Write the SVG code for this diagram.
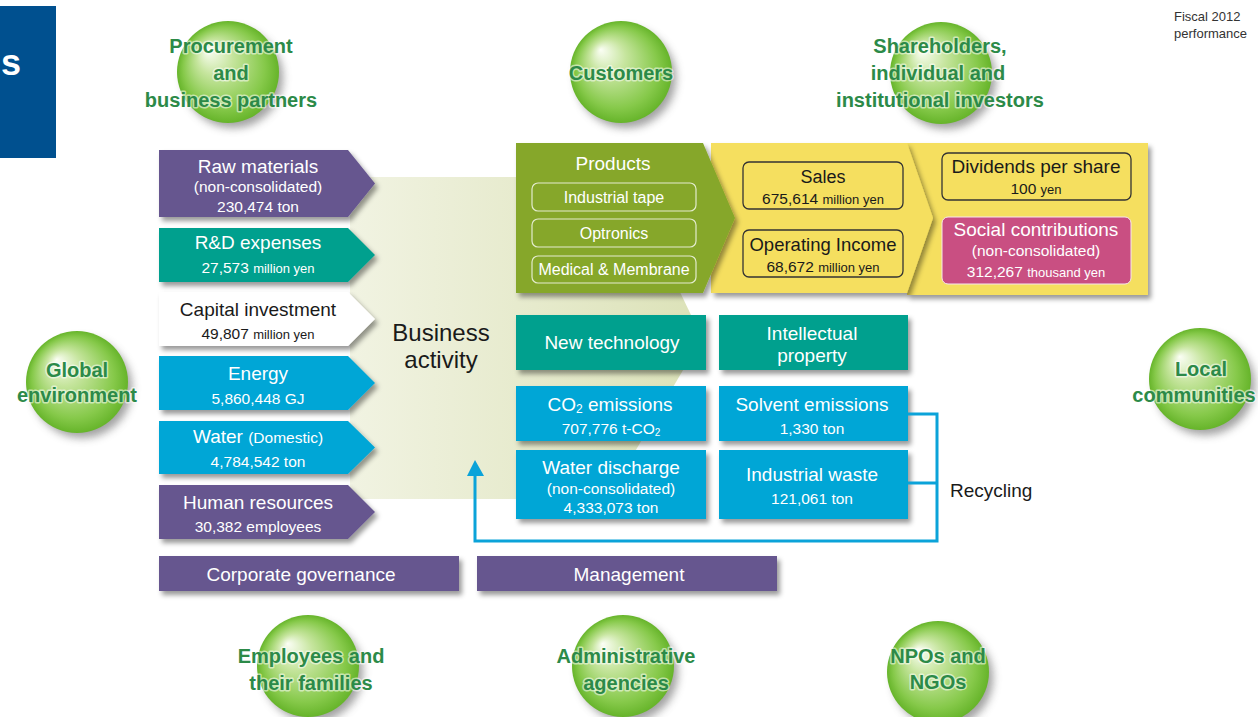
<svg xmlns="http://www.w3.org/2000/svg" width="1258" height="717" viewBox="0 0 1258 717">
<defs>
<filter id="sh" x="-10%" y="-10%" width="130%" height="140%"><feDropShadow dx="3" dy="4" stdDeviation="2.5" flood-color="#000" flood-opacity="0.4"/></filter>
<filter id="bl" x="-30%" y="-30%" width="160%" height="160%"><feGaussianBlur stdDeviation="4"/></filter>
<radialGradient id="ball" cx="0.5" cy="0.5" r="0.5" fx="0.3" fy="0.28">
<stop offset="0" stop-color="#fbfef5"/>
<stop offset="0.35" stop-color="#c6e59e"/>
<stop offset="0.8" stop-color="#86c94a"/>
<stop offset="1" stop-color="#66b42a"/>
</radialGradient>
<linearGradient id="bg" x1="0" y1="0" x2="1" y2="0">
<stop offset="0" stop-color="#f1f3e2"/>
<stop offset="1" stop-color="#dce2b8"/>
</linearGradient>
</defs>
<style>
text{font-family:"Liberation Sans",Arial,sans-serif;text-anchor:middle}
.w{fill:#fff}
.k{fill:#1a1a1a}
.t17{font-size:19px}
.t18{font-size:19px}
.t14{font-size:15.5px}
.t12{font-size:13px}
.t15{font-size:16px}
.g{font-size:20px;font-weight:bold;fill:#2c8a48;stroke:#fff;stroke-width:3;stroke-opacity:0.55;paint-order:stroke;stroke-linejoin:round}
.ball{fill:url(#ball)}
.bsh{fill:#555;opacity:0.55}
.pur{fill:#66568f}
.teal{fill:#00a08e}
.blue{fill:#00a6d6}
.conn{fill:none;stroke:#0ba3d9;stroke-width:3}
</style>

<g id="title-tab">
<rect x="0" y="6" width="56" height="152" fill="#00508f"/>
<text x="1" y="75" style="font-size:36px;font-weight:bold;fill:#fff;text-anchor:start">s</text>
</g>
<g id="fiscal-note">
<text x="1174" y="21" style="font-size:13px;fill:#333;text-anchor:start">Fiscal 2012</text>
<text x="1174" y="38" style="font-size:13px;fill:#333;text-anchor:start">performance</text>
</g>

<g id="business-activity">
<path d="M350,177 H625 L702,338 L607,499 H350 Z" fill="url(#bg)"/>
<text x="441" y="341" style="font-size:24px" class="k">Business</text>
<text x="441" y="368" style="font-size:24px" class="k">activity</text>
</g>

<g id="stakeholders">
<g id="procurement">
<circle cx="233" cy="78" r="50" class="bsh" filter="url(#bl)"/>
<circle cx="228" cy="72" r="51" class="ball"/>
<text x="231" y="53" class="g">Procurement</text>
<text x="231" y="80" class="g">and</text>
<text x="231" y="107" class="g">business partners</text>
</g>
<g id="customers">
<circle cx="626" cy="78" r="50" class="bsh" filter="url(#bl)"/>
<circle cx="621" cy="72" r="51" class="ball"/>
<text x="621" y="80" class="g">Customers</text>
</g>
<g id="shareholders">
<circle cx="946" cy="79" r="50" class="bsh" filter="url(#bl)"/>
<circle cx="941" cy="73" r="51" class="ball"/>
<text x="940" y="53" class="g">Shareholders,</text>
<text x="938" y="80" class="g">individual and</text>
<text x="940" y="107" class="g">institutional investors</text>
</g>
<g id="global-environment">
<circle cx="82" cy="388" r="50" class="bsh" filter="url(#bl)"/>
<circle cx="77" cy="382" r="51" class="ball"/>
<text x="77" y="377" class="g">Global</text>
<text x="77" y="402" class="g">environment</text>
</g>
<g id="local-communities">
<circle cx="1205" cy="385" r="50" class="bsh" filter="url(#bl)"/>
<circle cx="1200" cy="379" r="51" class="ball"/>
<text x="1201" y="376" class="g">Local</text>
<text x="1194" y="402" class="g">communities</text>
</g>
<g id="employees">
<circle cx="313" cy="672" r="50" class="bsh" filter="url(#bl)"/>
<circle cx="308" cy="666" r="51" class="ball"/>
<text x="311" y="663" class="g">Employees and</text>
<text x="311" y="690" class="g">their families</text>
</g>
<g id="administrative">
<circle cx="628" cy="672" r="50" class="bsh" filter="url(#bl)"/>
<circle cx="623" cy="666" r="51" class="ball"/>
<text x="626" y="663" class="g">Administrative</text>
<text x="626" y="690" class="g">agencies</text>
</g>
<g id="npos">
<circle cx="943" cy="678" r="50" class="bsh" filter="url(#bl)"/>
<circle cx="938" cy="672" r="51" class="ball"/>
<text x="938" y="663" class="g">NPOs and</text>
<text x="938" y="689" class="g">NGOs</text>
</g>
</g>

<g id="inputs">
<g id="raw-materials">
<path d="M159,150 H348 L375,183.5 L348,217 H159 Z" class="pur" filter="url(#sh)"/>
<text x="258" y="173" class="w t17">Raw materials</text>
<text x="258" y="192" class="w t14">(non-consolidated)</text>
<text x="258" y="212" class="w t14">230,474 ton</text>
</g>
<g id="rd-expenses">
<path d="M159,228 H348 L375,255 L348,282 H159 Z" class="teal" filter="url(#sh)"/>
<text x="258" y="249" class="w t17">R&amp;D expenses</text>
<text x="258" y="273" class="w t14">27,573 <tspan class="t12">million yen</tspan></text>
</g>
<g id="capital-investment">
<path d="M159,292 H348 L375,319 L348,346 H159 Z" fill="#fff" filter="url(#sh)"/>
<text x="258" y="316" class="k t17">Capital investment</text>
<text x="258" y="339" class="k t14">49,807 <tspan class="t12">million yen</tspan></text>
</g>
<g id="energy">
<path d="M159,356 H348 L375,383 L348,410 H159 Z" class="blue" filter="url(#sh)"/>
<text x="258" y="380" class="w t17">Energy</text>
<text x="258" y="404" class="w t14">5,860,448 GJ</text>
</g>
<g id="water">
<path d="M159,421 H348 L375,447.5 L348,474 H159 Z" class="blue" filter="url(#sh)"/>
<text x="258" y="443" class="w t17">Water <tspan class="t14">(Domestic)</tspan></text>
<text x="258" y="467" class="w t14">4,784,542 ton</text>
</g>
<g id="human-resources">
<path d="M159,485 H348 L375,512 L348,539 H159 Z" class="pur" filter="url(#sh)"/>
<text x="258" y="509" class="w t17">Human resources</text>
<text x="258" y="532" class="w t14">30,382 employees</text>
</g>
</g>

<g id="outputs">
<g id="returns-panel">
<rect x="907" y="143" width="241" height="152" fill="#f5df5f" filter="url(#sh)"/>
<g id="dividends">
<rect x="942" y="153" width="189" height="47" rx="6" fill="none" stroke="#333" stroke-width="1.3"/>
<text x="1036" y="173" class="k t18">Dividends per share</text>
<text x="1036" y="194" class="k t14">100 <tspan class="t12">yen</tspan></text>
</g>
<g id="social-contributions">
<rect x="942" y="217" width="189" height="67" rx="6" fill="#c94f82" stroke="#f6e8ee" stroke-width="1"/>
<text x="1036" y="236" class="w t17">Social contributions</text>
<text x="1036" y="256" class="w t14">(non-consolidated)</text>
<text x="1036" y="277" class="w t14">312,267 <tspan class="t12">thousand yen</tspan></text>
</g>
</g>
<g id="results-panel">
<path d="M711,143 H907 L933,218 L907,293 H711 Z" fill="#f5df5f" filter="url(#sh)"/>
<g id="sales">
<rect x="743" y="162" width="160" height="47" rx="6" fill="none" stroke="#333" stroke-width="1.3"/>
<text x="823" y="183" class="k" style="font-size:18px">Sales</text>
<text x="823" y="204" class="k t14">675,614 <tspan class="t12">million yen</tspan></text>
</g>
<g id="operating-income">
<rect x="743" y="230" width="160" height="47" rx="6" fill="none" stroke="#333" stroke-width="1.3"/>
<text x="823" y="251" class="k" style="font-size:18.5px">Operating Income</text>
<text x="823" y="272" class="k t14">68,672 <tspan class="t12">million yen</tspan></text>
</g>
</g>
<g id="products">
<path d="M516,143 H703 L735,218 L703,293 H516 Z" fill="#86a729" filter="url(#sh)"/>
<text x="613" y="170" class="w t18">Products</text>
<rect x="532" y="183" width="164" height="28" rx="6" fill="none" stroke="#e3ebcd" stroke-width="1.2"/>
<text x="614" y="203" class="w t15">Industrial tape</text>
<rect x="532" y="219" width="164" height="28" rx="6" fill="none" stroke="#e3ebcd" stroke-width="1.2"/>
<text x="614" y="239" class="w t15">Optronics</text>
<rect x="532" y="256" width="164" height="27" rx="6" fill="none" stroke="#e3ebcd" stroke-width="1.2"/>
<text x="614" y="275" class="w t15">Medical &amp; Membrane</text>
</g>
<g id="new-technology">
<rect x="516" y="315" width="190" height="55" class="teal" filter="url(#sh)"/>
<text x="612" y="349" class="w t18">New technology</text>
</g>
<g id="intellectual-property">
<rect x="719" y="315" width="189" height="55" class="teal" filter="url(#sh)"/>
<text x="812" y="340" class="w t18">Intellectual</text>
<text x="812" y="362" class="w t18">property</text>
</g>
<g id="co2-emissions">
<rect x="516" y="386" width="190" height="55" class="blue" filter="url(#sh)"/>
<text x="610" y="411" class="w t17">CO<tspan style="font-size:12px" dy="2">2</tspan><tspan dy="-2"> emissions</tspan></text>
<text x="611" y="434" class="w t14">707,776 t-CO<tspan style="font-size:10px" dy="2">2</tspan></text>
</g>
<g id="solvent-emissions">
<rect x="719" y="386" width="189" height="55" class="blue" filter="url(#sh)"/>
<text x="812" y="411" class="w t17">Solvent emissions</text>
<text x="812" y="434" class="w t14">1,330 ton</text>
</g>
<g id="water-discharge">
<rect x="516" y="450" width="190" height="69" class="blue" filter="url(#sh)"/>
<text x="611" y="474" class="w t17">Water discharge</text>
<text x="611" y="494" class="w t14">(non-consolidated)</text>
<text x="611" y="513" class="w t14">4,333,073 ton</text>
</g>
<g id="industrial-waste">
<rect x="719" y="450" width="189" height="69" class="blue" filter="url(#sh)"/>
<text x="812" y="481" class="w t17">Industrial waste</text>
<text x="812" y="504" class="w t14">121,061 ton</text>
</g>
</g>

<g id="connectors">
<path d="M908,414 H937 V541 H475 V470" class="conn"/>
<path d="M908,483 H937" class="conn"/>
<path d="M467,476 L475,460 L484,476 Z" fill="#0ba3d9"/>
</g>
<g id="recycling-label">
<text x="950" y="497" class="k t17" style="text-anchor:start">Recycling</text>
</g>

<g id="foundation">
<g id="corporate-governance">
<rect x="159" y="556" width="300" height="35" class="pur" filter="url(#sh)"/>
<text x="301" y="581" class="w t17">Corporate governance</text>
</g>
<g id="management">
<rect x="477" y="556" width="300" height="35" class="pur" filter="url(#sh)"/>
<text x="629" y="581" class="w t17">Management</text>
</g>
</g>
</svg>
